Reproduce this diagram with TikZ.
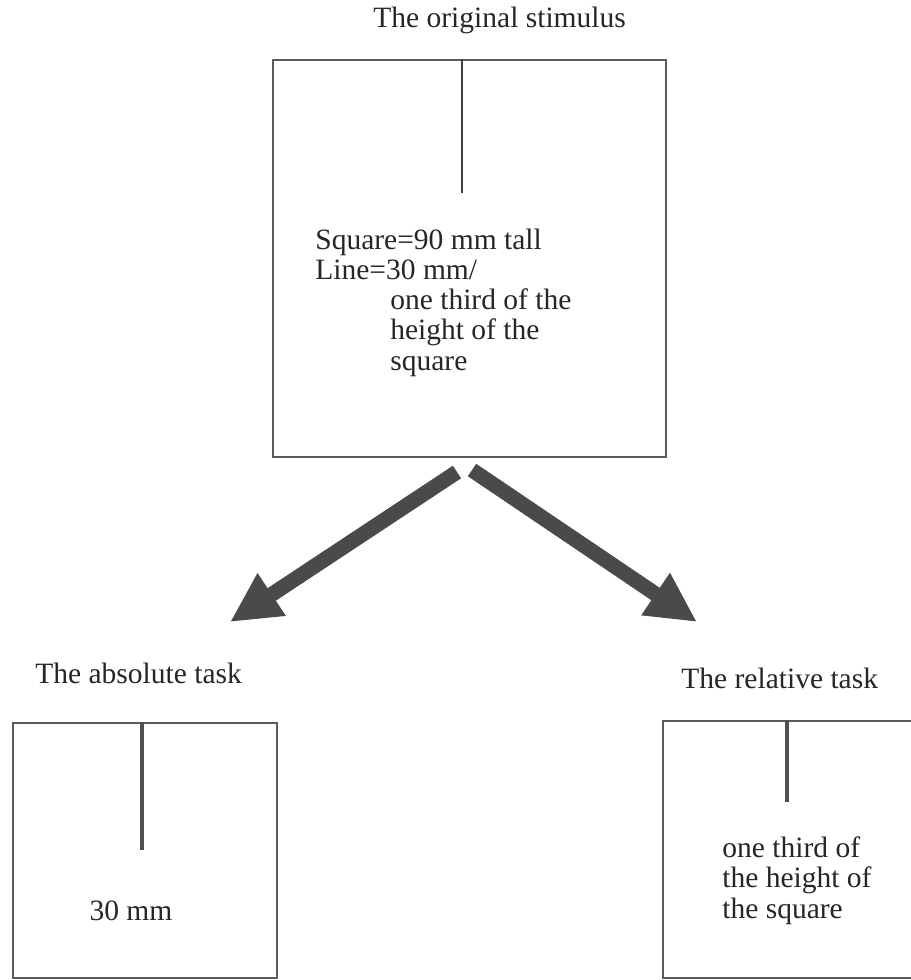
\documentclass[tikz,border=0pt]{standalone}
\usepackage{fontspec}
\setmainfont{Liberation Serif}
\usepackage{xcolor}
\usetikzlibrary{arrows.meta,positioning,calc}

\definecolor{framegray}{HTML}{5C5C5C}
\definecolor{markgray}{HTML}{505050}
\definecolor{arrowgray}{HTML}{4A4A4A}

\begin{document}
\begin{tikzpicture}[
    x=0.02cm, y=-0.02cm,
    frame/.style={rectangle, draw=framegray, line width=1.4pt, inner sep=0pt},
    lbl/.style={anchor=base west, inner sep=0pt, font=\fontsize{16.8}{17.1}\selectfont, align=left, text=black!85},
    thinmark/.style={draw=black!75, line width=1.2pt},
    thickmark/.style={draw=markgray, line width=2.8pt},
    bigarr/.style={draw=arrowgray, line width=0.3cm, -{Triangle[length=1cm, width=0.95cm]}}
]
    \useasboundingbox (0,0) rectangle (911,980);
    \clip (0,0) rectangle (911,980);

    % Original stimulus
    \node[frame, minimum width=7.86cm, minimum height=7.94cm] (orig) at (469.5,258.5) {};
    \node[lbl] (origTitle) at (373,28) {The original stimulus};
    \draw[thinmark] (orig.north -| 462,0) -- (462,193);
    % (base of a multi-line label sits on its last line)
    \node[lbl] (origText) at (315,370) {Square=90 mm tall\\Line=30 mm/\\\hspace*{1.5cm}one third of the\\\hspace*{1.5cm}height of the\\\hspace*{1.5cm}square};

    % Absolute task
    \node[frame, minimum width=5.28cm, minimum height=5.1cm] (absBox) at (145,850.5) {};
    \node[lbl] (absTitle) at (35,683) {The absolute task};
    \draw[thickmark] (absBox.north -| 142,0) -- (142,850);
    \node[lbl, anchor=base] (absText) at (131,920) {30 mm};

    % Relative task
    \node[frame, minimum width=5.28cm, minimum height=5.14cm] (relBox) at (795,849.5) {};
    \node[lbl] (relTitle) at (681,688) {The relative task};
    \draw[thickmark] (relBox.north -| 787,0) -- (787,802);
    \node[lbl] (relText) at (722,918) {one third of\\the height of\\the square};

    % Arrows
    \coordinate (splitL) at (457,472);
    \coordinate (splitR) at (472,470);
    \coordinate (absTip) at (230,622);
    \coordinate (relTip) at (697,622);
    \draw[bigarr] (splitL) -- (absTip);
    \draw[bigarr] (splitR) -- (relTip);

\end{tikzpicture}
\end{document}
